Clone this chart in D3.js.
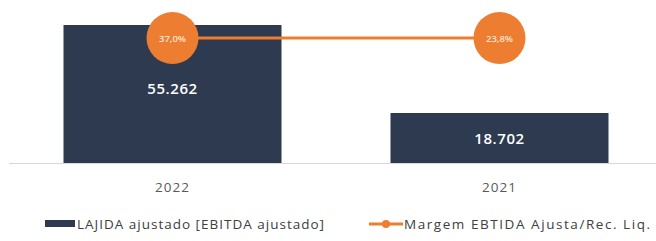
<!DOCTYPE html>
<html>
<head>
<meta charset="utf-8">
<script src="https://cdn.jsdelivr.net/npm/d3@7"></script>
<style>
  body { margin: 0; background: #fff; }
  text { font-family: "Open Sans", sans-serif; }
</style>
</head>
<body>
<div id="chart"></div>
<script>
// data
const years = ["2022", "2021"];
const ebitda = [55262, 18702];
const ebitdaLabels = ["55.262", "18.702"];
const margin = [37.0, 23.8];
const marginLabels = ["37,0%", "23,8%"];
const legendLabels = ["LAJIDA ajustado [EBITDA ajustado]", "Margem EBTIDA Ajusta/Rec. Liq."];

// constants
const width = 656;
const height = 241;
const navy = "#2e3a4f";
const orange = "#ed7d31";

const svg = d3.select("#chart")
  .append("svg")
  .attr("width", width)
  .attr("height", height);

// SCALES
const xScale = d3.scaleBand()
  .domain(years)
  .range([9, 663])
  .paddingInner(1 / 3)
  .paddingOuter(1 / 6);

// axis doesn't start at zero in the original
const yScale = d3.scaleLinear()
  .domain([-2070, 55262])
  .range([163, 25]);

const base = yScale.range()[0];
const lineY = 38; // margin markers sit on one row

// baseline
svg.append("line")
  .attr("x1", 9).attr("x2", width)
  .attr("y1", base + 0.5).attr("y2", base + 0.5)
  .attr("stroke", "#d9d9d9")
  .attr("stroke-width", 1);

// bars
svg.selectAll("rect.bar")
  .data(years)
  .join("rect")
  .attr("class", "bar")
  .attr("x", d => xScale(d))
  .attr("width", xScale.bandwidth())
  .attr("y", (d, i) => yScale(ebitda[i]))
  .attr("height", (d, i) => base - yScale(ebitda[i]))
  .attr("fill", navy);

// bar values
svg.selectAll("text.val")
  .data(years)
  .join("text")
  .attr("class", "val")
  .attr("x", d => xScale(d) + xScale.bandwidth() / 2)
  .attr("y", (d, i) => i === 0 ? yScale(ebitda[i]) + 69 : (yScale(ebitda[i]) + base) / 2 + 6)
  .attr("text-anchor", "middle")
  .attr("fill", "#fff")
  .attr("font-size", 15)
  .attr("font-weight", 600)
  .attr("letter-spacing", 0.6)
  .text((d, i) => ebitdaLabels[i]);

// category labels
svg.selectAll("text.cat")
  .data(years)
  .join("text")
  .attr("class", "cat")
  .attr("x", d => xScale(d) + xScale.bandwidth() / 2)
  .attr("y", 192)
  .attr("text-anchor", "middle")
  .attr("fill", "#595959")
  .attr("font-size", 13.5)
  .attr("letter-spacing", 1)
  .text(d => d);

// margin line + markers
const cx = d => xScale(d) + xScale.bandwidth() / 2;
svg.append("line")
  .attr("x1", cx(years[0])).attr("x2", cx(years[1]))
  .attr("y1", lineY).attr("y2", lineY)
  .attr("stroke", orange)
  .attr("stroke-width", 3);

svg.selectAll("circle.m")
  .data(years)
  .join("circle")
  .attr("class", "m")
  .attr("cx", cx)
  .attr("cy", lineY)
  .attr("r", 26)
  .attr("fill", orange);

svg.selectAll("text.m")
  .data(years)
  .join("text")
  .attr("class", "m")
  .attr("x", cx)
  .attr("y", lineY + 3.5)
  .attr("text-anchor", "middle")
  .attr("fill", "#fde2cf")
  .attr("font-size", 9.5)
  .attr("font-weight", 600)
  .text((d, i) => marginLabels[i]);

// legend
const lg = svg.append("g").attr("font-size", 13.5).attr("fill", "#404040");
lg.append("rect")
  .attr("x", 45).attr("y", 220)
  .attr("width", 30).attr("height", 7)
  .attr("fill", navy);
lg.append("text")
  .attr("x", 77).attr("y", 229)
  .attr("fill", "#404040")
  .attr("textLength", 247)
  .text(legendLabels[0]);
lg.append("line")
  .attr("x1", 369).attr("x2", 403)
  .attr("y1", 224).attr("y2", 224)
  .attr("stroke", orange).attr("stroke-width", 3);
lg.append("circle")
  .attr("cx", 386).attr("cy", 224).attr("r", 4)
  .attr("fill", orange);
lg.append("text")
  .attr("x", 404).attr("y", 229)
  .attr("fill", "#404040")
  .attr("textLength", 246)
  .text(legendLabels[1]);
</script>
</body>
</html>
